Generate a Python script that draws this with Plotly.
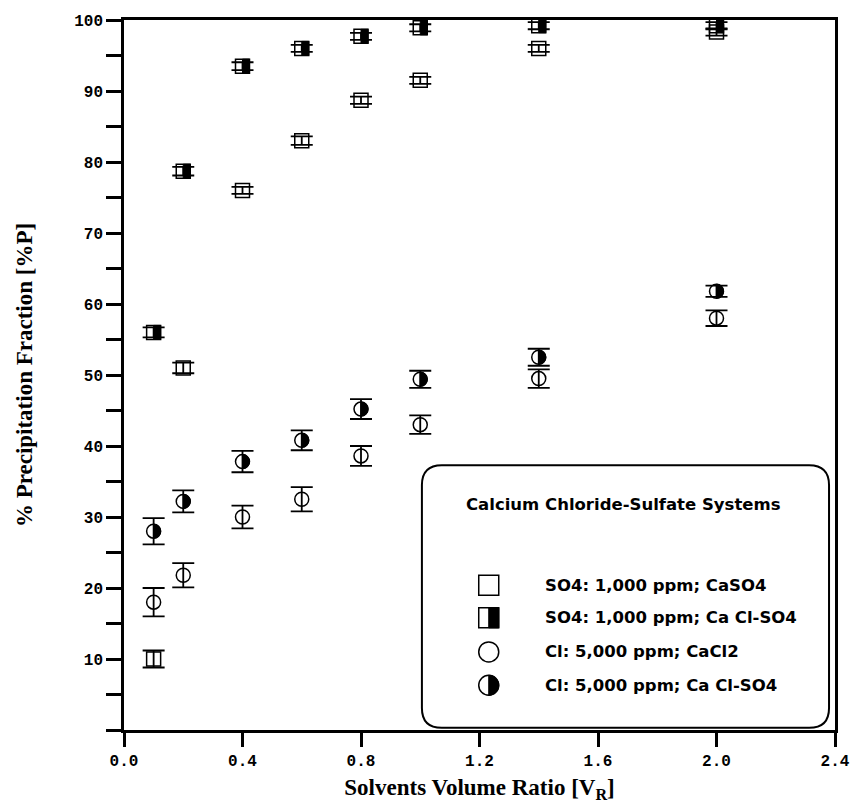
import plotly.graph_objects as go

x_vals = [0.1, 0.2, 0.4, 0.6, 0.8, 1.0, 1.4, 2.0]

so4_caso4 = [10.0, 51.0, 76.0, 83.0, 88.7, 91.5, 96.0, 98.3]
so4_caso4_err = [1.2, 0.75, 0.5, 0.6, 0.5, 0.5, 0.5, 0.5]

so4_mix = [56.0, 78.7, 93.5, 96.0, 97.7, 98.9, 99.2, 99.2]
so4_mix_err = [0.7, 0.6, 0.55, 0.5, 0.5, 0.5, 0.5, 0.5]

cl_cacl2 = [18.0, 21.8, 30.0, 32.5, 38.6, 43.0, 49.5, 58.0]
cl_cacl2_err = [2.0, 1.7, 1.6, 1.7, 1.4, 1.3, 1.3, 1.1]

cl_mix = [28.0, 32.2, 37.8, 40.8, 45.2, 49.4, 52.5, 61.8]
cl_mix_err = [1.85, 1.55, 1.5, 1.4, 1.4, 1.2, 1.2, 0.8]

legend_title = "Calcium Chloride-Sulfate Systems"
legend_labels = ["SO4: 1,000 ppm; CaSO4", "SO4: 1,000 ppm; Ca Cl-SO4",
                 "Cl: 5,000 ppm; CaCl2", "Cl: 5,000 ppm; Ca Cl-SO4"]

x_ticks = [0.0, 0.4, 0.8, 1.2, 1.6, 2.0, 2.4]
y_ticks = [0, 10, 20, 30, 40, 50, 60, 70, 80, 90, 100]

MS = 14  # marker size (px)
K = 0.5523


def circle_path(r, half=False):
    c = K * r
    if half:
        return (f"M 0,{r} C {c},{r} {r},{c} {r},0 C {r},{-c} {c},{-r} 0,{-r} Z")
    return (f"M 0,{r} C {c},{r} {r},{c} {r},0 C {r},{-c} {c},{-r} 0,{-r} "
            f"C {-c},{-r} {-r},{-c} {-r},0 C {-r},{c} {-c},{r} 0,{r} Z")


def square_path(h, half=False):
    if half:
        return f"M 0,{-h} L {h},{-h} L {h},{h} L 0,{h} Z"
    return f"M {-h},{-h} L {h},{-h} L {h},{h} L {-h},{h} Z"


fig = go.Figure()

series = [
    (so4_caso4, so4_caso4_err, "square-open"),
    (so4_mix, so4_mix_err, "square-open"),
    (cl_cacl2, cl_cacl2_err, "circle-open"),
    (cl_mix, cl_mix_err, "circle-open"),
]
for (yv, ev, sym), name in zip(series, legend_labels):
    fig.add_trace(go.Scatter(
        x=x_vals, y=yv, mode="markers", name=name, showlegend=False,
        marker=dict(symbol=sym, size=MS, color="black", line=dict(width=1.5, color="black")),
        error_y=dict(type="data", array=ev, visible=True, color="black", thickness=1.8, width=11),
    ))

shapes = []
# half-filled markers on data
for xv, yv in zip(x_vals, so4_mix):
    shapes.append(dict(type="path", xref="x", yref="y", xsizemode="pixel", ysizemode="pixel",
                       xanchor=xv, yanchor=yv, path=square_path(MS / 2, True),
                       fillcolor="black", line=dict(width=1, color="black"), layer="above"))
for xv, yv in zip(x_vals, cl_mix):
    shapes.append(dict(type="path", xref="x", yref="y", xsizemode="pixel", ysizemode="pixel",
                       xanchor=xv, yanchor=yv, path=circle_path(MS / 2, True),
                       fillcolor="black", line=dict(width=1, color="black"), layer="above"))

# legend box (paper coords)
bx0, bx1, by0, by1 = 0.419, 0.9916, 0.003, 0.373
rx, ry = 0.028, 0.028
box_path = (f"M {bx0+rx},{by0} L {bx1-rx},{by0} Q {bx1},{by0} {bx1},{by0+ry} "
            f"L {bx1},{by1-ry} Q {bx1},{by1} {bx1-rx},{by1} L {bx0+rx},{by1} "
            f"Q {bx0},{by1} {bx0},{by1-ry} L {bx0},{by0+ry} Q {bx0},{by0} {bx0+rx},{by0} Z")
shapes.append(dict(type="path", xref="paper", yref="paper", path=box_path,
                   fillcolor="white", line=dict(width=2, color="black"), layer="above"))

icon_x = 0.513
row_y = [0.204, 0.158, 0.110, 0.063]
IH = 10
icon_defs = [
    (square_path(IH), None),
    (square_path(IH), square_path(IH, True)),
    (circle_path(IH), None),
    (circle_path(IH), circle_path(IH, True)),
]
for (outline, half), ry_ in zip(icon_defs, row_y):
    shapes.append(dict(type="path", xref="paper", yref="paper", xsizemode="pixel", ysizemode="pixel",
                       xanchor=icon_x, yanchor=ry_, path=outline, fillcolor="white",
                       line=dict(width=1.5, color="black"), layer="above"))
    if half:
        shapes.append(dict(type="path", xref="paper", yref="paper", xsizemode="pixel", ysizemode="pixel",
                           xanchor=icon_x, yanchor=ry_, path=half, fillcolor="black",
                           line=dict(width=1, color="black"), layer="above"))

legfont = dict(family="DejaVu Sans", size=16.5, color="black", weight="bold")
annotations = [dict(xref="paper", yref="paper", x=0.703, y=0.318, text=legend_title, showarrow=False,
                    xanchor="center", yanchor="middle", font=legfont)]
for lab, ry_ in zip(legend_labels, row_y):
    annotations.append(dict(xref="paper", yref="paper", x=0.590, y=ry_, text=lab, showarrow=False,
                            xanchor="left", yanchor="middle", font=legfont))

tickfont = dict(family="Liberation Mono", size=16, color="black", weight="bold")
titlefont = dict(family="Liberation Serif", size=23, color="black", weight="bold")

fig.update_layout(
    width=854, height=803,
    margin=dict(l=124, r=19, t=20, b=73),
    plot_bgcolor="white", paper_bgcolor="white",
    shapes=shapes, annotations=annotations,
    xaxis=dict(range=[0, 2.4], tickvals=x_ticks, ticktext=[f"{v:.1f}" for v in x_ticks],
               showgrid=False, zeroline=False, showline=True, linecolor="black", linewidth=2.5,
               mirror=True, ticks="outside", ticklen=14, tickwidth=2.5, tickcolor="black",
               tickfont=tickfont, automargin=False,
               title=dict(text="Solvents Volume Ratio [V<sub>R</sub>]", font=titlefont, standoff=10)),
    yaxis=dict(range=[0, 100], tickvals=y_ticks, ticktext=["" if v == 0 else str(v) for v in y_ticks],
               showgrid=False, zeroline=False, showline=True, linecolor="black", linewidth=2.5,
               mirror=True, ticks="outside", ticklen=15, tickwidth=2.5, tickcolor="black",
               tickfont=tickfont, automargin=False,
               minor=dict(dtick=5, ticks="outside", ticklen=15, tickwidth=2.5, tickcolor="black", showgrid=False),
               title=dict(text="% Precipitation Fraction [%P]", font=titlefont, standoff=36)),
)

fig.write_html("out.html")
